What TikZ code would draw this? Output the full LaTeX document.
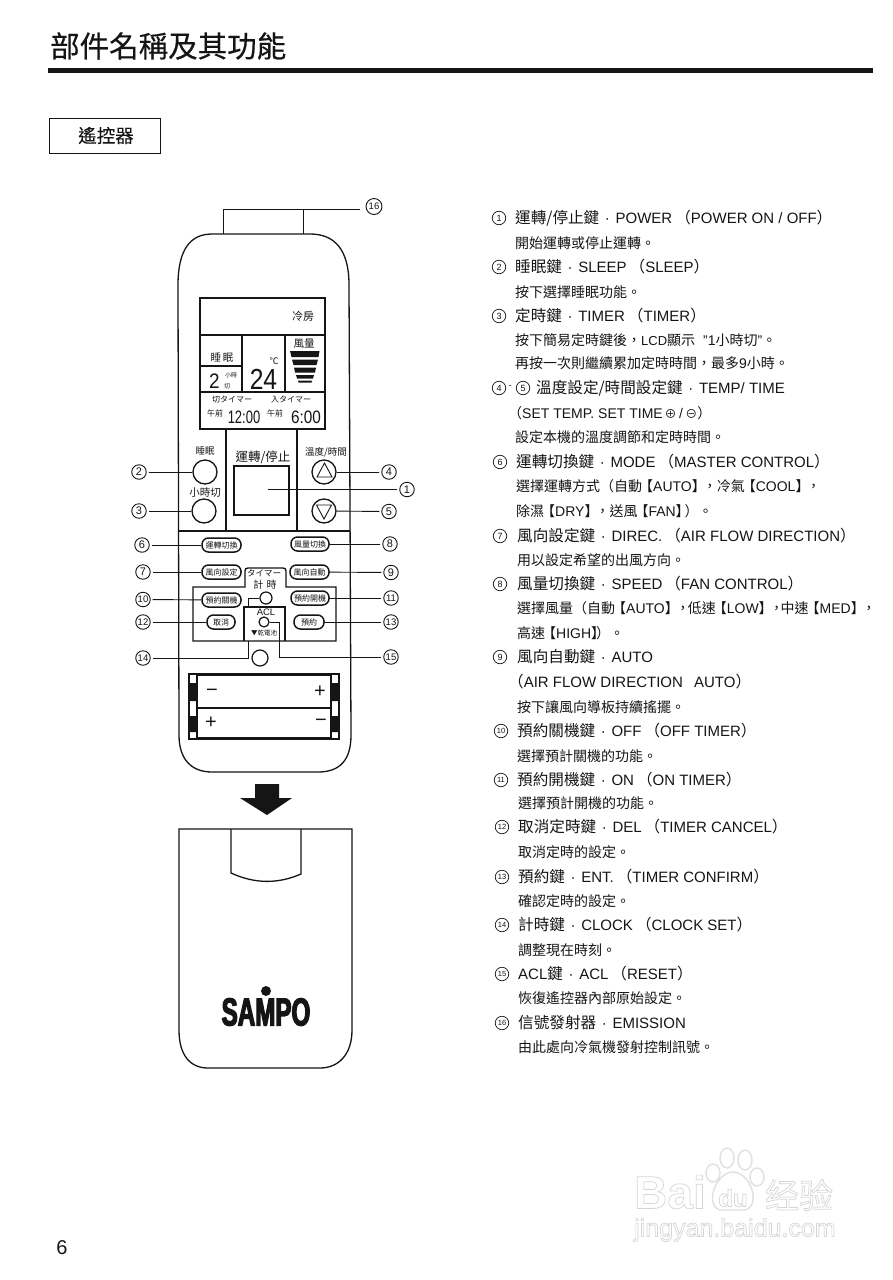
\documentclass[tikz,border=0pt]{standalone}
\usepackage{fontspec}
\setmainfont{Liberation Sans}
\newfontfamily\cjkf{Noto Sans CJK TC}
\newfontfamily\cjkh[Scale=1.04]{Noto Sans CJK TC}
\newfontfamily\cjkm[FakeBold=0.4]{Noto Sans CJK TC}
\newfontfamily\cjks[FakeBold=0.2]{Noto Sans CJK TC}
\newfontfamily\logof[FakeBold=3,FakeStretch=0.62]{Liberation Sans Bold}
\newcommand{\C}[1]{{\cjkf #1}}
\newcommand{\D}[1]{{\cjkh #1}}
\newcommand{\dt}{\hspace{1.5pt} · \hspace{1.5pt}}
\newcommand{\Lp}{\hspace{3pt}\D{（}}
\newcommand{\Rp}{\D{）}}
\newcommand{\Bl}{\hspace{-3pt}\C{【}}
\newcommand{\Br}{\C{】}\hspace{-3pt}}
\newcommand{\La}[1]{{\fontsize{14}{14}\selectfont #1}}
\newcommand{\fs}[1]{\fontsize{#1}{#1}\selectfont}
\newcommand{\outl}[1]{\special{pdf:code q 1 Tr 0.7 w 0.84 0.84 0.84 RG}#1\special{pdf:code Q}}
\definecolor{ink}{HTML}{151515}
\definecolor{wm}{HTML}{E0E0E0}
\tikzset{
  ln/.style={draw=ink,line width=1.3pt},
  lead/.style={draw=ink,line width=0.9pt},
  callout/.style={circle,draw=ink,line width=0.9pt,minimum size=14.5pt,inner sep=0pt,text=ink,font=\fs{11}},
  calloutb/.style={callout,font=\fs{9.5}},
  listnum/.style={circle,draw=ink,line width=0.7pt,minimum size=13.5pt,inner sep=0pt,text=ink,font=\fs{9}},
  listnumb/.style={listnum,font=\fs{7.5}},
  btn/.style={circle,draw=ink,line width=1.3pt,minimum size=24pt,inner sep=0pt},
  smallbtn/.style={circle,draw=ink,line width=1.2pt,inner sep=0pt},
  pill/.style={draw=ink,line width=1.5pt,rounded corners=6.5pt,minimum height=14pt,inner sep=0pt,text=ink,font=\fs{8}\cjkf},
  lab/.style={inner sep=0pt,text=ink},
  headtext/.style={anchor=base west,inner sep=0pt,text=ink,font=\fs{15}},
  subtext/.style={anchor=base west,inner sep=0pt,text=ink,font=\fs{14}},
  wmark/.style={inner sep=0pt,text=white},
}
\newcommand{\hd}[4]{\node[headtext] (#1) at (#2,#3+5.5) {#4};}
\newcommand{\sub}[4]{\node[subtext] (#1) at (#2,#3+5) {#4};}
\begin{document}
\begin{tikzpicture}[x=1pt,y=-1pt]
\useasboundingbox (0,0) rectangle (893,1280);
\fill[white] (0,0) rectangle (893,1280);
% header
\node[lab,anchor=west,font=\fs{29.5}\cjkm] (title) at (50,46) {部件名稱及其功能};
\fill[ink] (48,67.5) rectangle (873,72.5);
\node[draw=ink,line width=0.9pt,minimum width=111pt,minimum height=35pt,inner sep=0pt,text=ink,font=\fs{18.5}\cjks] (sect) at (104.5,135.5) {\hspace*{3pt}遙控器};
\node[lab,font=\fs{20}] (page) at (62,1248) {6};
% remote body
\draw[ln] (178,285) .. controls (178,250) and (190,234) .. (212,234) -- (310,234)
  .. controls (335,234) and (349,250) .. (349,285) -- (351,735)
  .. controls (351,760) and (340,772) .. (318,772) -- (212,772)
  .. controls (192,772) and (179,760) .. (179,735) -- cycle;
% LCD
\draw[ln] (200,298) rectangle (325,429);
\draw[ln] (200,335) -- (325,335) (200,392) -- (325,392) (242,335) -- (242,392) (285,335) -- (285,392) (200,366) -- (242,366);
\node[lab,font=\fs{11}\cjkf] (l1) at (303,316) {冷房};
\node[lab,font=\fs{10.5}\cjkf] (l2) at (304,344) {風量};
\fill[ink] (290,351) -- (319.5,351) -- (318.5,357) -- (291.5,357) -- cycle;
\fill[ink] (292,359.5) -- (318,359.5) -- (316.5,365) -- (293.5,365) -- cycle;
\fill[ink] (294,367.5) -- (316,367.5) -- (315,372.5) -- (295,372.5) -- cycle;
\fill[ink] (296,375) -- (314,375) -- (313,378.5) -- (297,378.5) -- cycle;
\fill[ink] (298,380.5) -- (312,380.5) -- (311.5,382.5) -- (298.5,382.5) -- cycle;
\node[lab,font=\fs{10.5}\cjkf] (l3) at (222,358) {睡\,眠};
\node[lab,font=\fs{21}] (l4) at (214.5,381) {\scalebox{0.9}[1]{2}};
\node[lab,font=\fs{6}\cjkf] (l5) at (231,375) {小時};
\node[lab,font=\fs{6}\cjkf] (l6) at (227,386) {切};
\node[lab,font=\fs{9}\cjkf] (l7) at (274,361) {℃};
\node[lab,font=\fs{29}] (l8) at (263.5,379) {\scalebox{0.85}[1]{24}};
\node[lab,font=\fs{8}\cjkf] (l9) at (232,400) {切タイマー};
\node[lab,font=\fs{8}\cjkf] (l10) at (291,400) {入タイマー};
\node[lab,font=\fs{8}\cjkf] (l11) at (215,413) {午前};
\node[lab,font=\fs{8}\cjkf] (l12) at (275,413) {午前};
\node[lab,font=\fs{18}] (l13) at (244,417) {\scalebox{0.72}[1]{12:00}};
\node[lab,font=\fs{18}] (l14) at (306,417) {\scalebox{0.85}[1]{6:00}};
% upper button bay
\draw[ln] (226,429) -- (226,531) (297,429) -- (297,531) (178,531) -- (350,531);
\node[draw=ink,line width=1.4pt,minimum width=55pt,minimum height=49pt,inner sep=0pt] (power) at (261.5,490.5) {};
\node[lab,font=\fs{12.5}\cjkf] (l15) at (263,457) {運轉/停止};
\node[lab,font=\fs{9.5}\cjkf] (l16) at (205,451) {睡眠};
\node[lab,font=\fs{10.5}\cjkf] (l17) at (205,493) {小時切};
\node[lab,font=\fs{9.5}\cjkf] (l18) at (326,452) {溫度/時間};
\node[btn] (sleep) at (205,472) {};
\node[btn] (timer) at (204,511) {};
\node[btn] (up) at (324,472) {};
\node[btn] (down) at (324,511) {};
\draw[ink,line width=0.9pt] (324.5,463) -- (332,477) -- (317,477) -- cycle;
\draw[ink,line width=0.9pt] (316.5,505) -- (331.5,505) -- (324,519) -- cycle;
% pills
\node[pill,minimum width=39pt] (mode) at (221.5,545) {運轉切換};
\node[pill,minimum width=38pt] (speed) at (310,544) {風量切換};
\node[pill,minimum width=39pt] (direc) at (221.5,572) {風向設定};
\node[pill,minimum width=39pt] (auto) at (309.5,572) {風向自動};
\node[pill,minimum width=39pt] (off) at (221.5,600) {預約關機};
\node[pill,minimum width=38pt] (on) at (310,598) {預約開機};
\node[pill,minimum width=28pt] (del) at (221,622) {取消};
\node[pill,minimum width=30pt] (ent) at (309,622) {預約};
% timer panel
\draw[ln] (193,587) -- (245,587) -- (245,571) .. controls (245,569) and (246,568) .. (248,568) -- (283,568) .. controls (285,568) and (286,569) .. (286,571) -- (286,587) -- (336,587) -- (336,641) -- (193,641) -- cycle;
\draw[ln] (244,641) -- (244,607) -- (285,607) -- (285,641);
\node[lab,font=\fs{8.5}\cjkf] (l19) at (264,573) {タイマー};
\node[lab,font=\fs{10}\cjkf] (l20) at (265,585) {計\,\,時};
\node[lab,font=\fs{9.5}] (l21) at (266,612) {ACL};
\node[lab,font=\fs{6.5}\cjkf] (l22) at (264,633) {▼乾電池};
\node[smallbtn,minimum size=12pt] (clock) at (266,598) {};
\node[smallbtn,minimum size=10pt] (acl) at (264,622) {};
\node[smallbtn,minimum size=16pt] (emit) at (260,658) {};
% callouts
\node[calloutb,minimum size=16pt] (n16) at (374,206.5) {16};
\node[callout] (n1) at (407,489.5) {1};
\node[callout] (n2) at (139,472) {2};
\node[callout] (n3) at (139,511) {3};
\node[callout] (n4) at (389,472) {4};
\node[callout] (n5) at (389,511.5) {5};
\node[callout] (n6) at (142,545) {6};
\node[callout] (n7) at (143,572) {7};
\node[callout] (n8) at (390,544) {8};
\node[callout] (n9) at (391,572.5) {9};
\node[calloutb] (n10) at (143,599.5) {10};
\node[calloutb] (n11) at (391,598) {11};
\node[calloutb] (n12) at (143,622) {12};
\node[calloutb] (n13) at (391,622) {13};
\node[calloutb] (n14) at (143,658) {14};
\node[calloutb] (n15) at (391,657) {15};
\coordinate (s1) at (223,234);
\coordinate (s2) at (303,234);
\coordinate (s3) at (360,209);
\coordinate (p1) at (268,489.5);
\coordinate (c1) at (248,598);
\coordinate (c2) at (248,607);
\coordinate (c3) at (248,641);
\coordinate (r1) at (279.5,657);
\draw[lead] (s1) |- (s3);
\draw[lead] (s2) -- (s2 |- s3);
\draw[lead,shorten <=2pt] (n1) -- (p1);
\draw[lead,shorten <=2pt] (n2) -- (sleep);
\draw[lead,shorten <=2pt] (n3) -- (timer);
\draw[lead,shorten <=2pt] (n4) -- (up);
\draw[lead,shorten <=2pt] (n5) -- (down);
\draw[lead,shorten <=2pt] (n6) -- (mode);
\draw[lead,shorten <=2pt] (n7) -- (direc);
\draw[lead,shorten <=2pt] (n8) -- (speed);
\draw[lead,shorten <=2pt] (n9) -- (auto);
\draw[lead,shorten <=2pt] (n10) -- (off);
\draw[lead,shorten <=2pt] (n11) -- (on);
\draw[lead,shorten <=2pt] (n12) -- (del);
\draw[lead,shorten <=2pt] (n13) -- (ent);
\draw[lead,shorten <=2pt] (n14) -| (c3);
\draw[lead] (clock) -- (c1) -- (c2);
\draw[lead,shorten >=2pt] (acl) -| (r1) -- (n15);
% battery
\draw[ink,line width=1.2pt] (189,674) rectangle (339,739);
\fill[ink] (189,683) rectangle (197,701) (189,716) rectangle (197,732) (331,683) rectangle (339,701) (331,716) rectangle (339,732);
\draw[ink,line width=1.6pt] (197,675) rectangle (331,738);
\draw[ink,line width=1.2pt] (197,708) -- (331,708);
\node[lab,font=\fs{20}] (b1) at (212,693) {−};
\node[lab,font=\fs{20}] (b2) at (320,692) {+};
\node[lab,font=\fs{20}] (b3) at (211,723) {+};
\node[lab,font=\fs{20}] (b4) at (321,723) {−};
% arrow
\fill[ink] (255,784) -- (279,784) -- (279,798) -- (292,798) -- (267,815) -- (240,798) -- (255,798) -- cycle;
% cover
\draw[ln] (179,829) -- (352,829) -- (352,1030) .. controls (352,1055) and (338,1068) .. (320,1068) -- (208,1068) .. controls (190,1068) and (179,1055) .. (179,1030) -- cycle;
\draw[ln] (231,829) -- (231,873) .. controls (255,884) and (278,884) .. (301,874) -- (301,829);
\fill[ink] (266,991) circle (5);
\node[lab,font=\fs{39}\logof] (logo) at (266,1012) {SAMPO};
% list
\node[listnum] (a1) at (499,218) {1};
\hd{t1}{515}{218}{\D{運轉/停止鍵}\dt POWER\Lp POWER ON / OFF\Rp}
\sub{u1}{515}{243}{\C{開始運轉或停止運轉。}}
\node[listnum] (a2) at (499,267) {2};
\hd{t2}{515}{267}{\D{睡眠鍵}\dt SLEEP\Lp SLEEP\Rp}
\sub{u2}{515}{292}{\C{按下選擇睡眠功能。}}
\node[listnum] (a3) at (499,316) {3};
\hd{t3}{515}{316}{\D{定時鍵}\dt TIMER\Lp TIMER\Rp}
\sub{u3}{515}{340}{\C{按下簡易定時鍵後，}{\fs{13}LCD}\C{顯示}\hspace{8pt}"1\C{小時切}"\C{。}}
\sub{u3b}{515}{363}{\C{再按一次則繼續累加定時時間，最多}\La{9}\C{小時。}}
\node[listnum] (a4) at (499,388) {4};
\node[lab,font=\fs{9}] (dash) at (510,387) {-};
\node[listnum] (a5) at (523,388) {5};
\hd{t4}{536}{388}{\D{溫度設定/時間設定鍵}\dt TEMP/ TIME}
\sub{u4}{508}{413}{\C{（}\fs{14}SET TEMP. SET TIME\hspace{2pt}{\fs{12}\C{⊕}}\,/\,{\fs{12}\C{⊖}}\C{）}}
\sub{u4b}{515}{437}{\C{設定本機的溫度調節和定時時間。}}
\node[listnum] (a6) at (500,462) {6};
\hd{t6}{516}{462}{\D{運轉切換鍵}\dt MODE\Lp MASTER CONTROL\Rp}
\sub{u6}{516}{486}{\C{選擇運轉方式（自動}\Bl\La{AUTO}\Br\C{，冷氣}\Bl\La{COOL}\Br\C{，}}
\sub{u6b}{516}{511}{\C{除濕}\Bl\La{DRY}\Br\C{，送風}\Bl\La{FAN}\Br\hspace{-2pt}\C{）。}}
\node[listnum] (a7) at (500,536) {7};
\hd{t7}{517}{536}{\D{風向設定鍵}\dt DIREC.\Lp AIR FLOW DIRECTION\Rp}
\sub{u7}{517}{560}{\C{用以設定希望的出風方向。}}
\node[listnum] (a8) at (500,584) {8};
\hd{t8}{517}{584}{\D{風量切換鍵}\dt SPEED\Lp FAN CONTROL\Rp}
\sub{u8}{517}{608}{\C{選擇風量（自動}\Bl\La{AUTO}\Br\C{，}\hspace{-2pt}\C{低速}\Bl\La{LOW}\Br\C{，}\hspace{-3pt}\C{中速}\Bl\La{MED}\Br\C{，}}
\sub{u8b}{517}{633}{\C{高速}\Bl\La{HIGH}\Br\hspace{-6pt}\C{）。}}
\node[listnum] (a9) at (500,657) {9};
\hd{t9}{517}{657}{\D{風向自動鍵}\dt AUTO}
\hd{t9b}{508}{682}{\D{（}AIR FLOW DIRECTION\hspace{7pt} AUTO\Rp}
\sub{u9}{517}{707}{\C{按下讓風向導板持續搖擺。}}
\node[listnumb] (a10) at (501,731) {10};
\hd{t10}{517}{731}{\D{預約關機鍵}\dt OFF\Lp OFF TIMER\Rp}
\sub{u10}{517}{756}{\C{選擇預計關機的功能。}}
\node[listnumb] (a11) at (501,780) {11};
\hd{t11}{517}{780}{\D{預約開機鍵}\dt ON\Lp ON TIMER\Rp}
\sub{u11}{518}{803}{\C{選擇預計開機的功能。}}
\node[listnumb] (a12) at (502,827) {12};
\hd{t12}{518}{827}{\D{取消定時鍵}\dt DEL\Lp TIMER CANCEL\Rp}
\sub{u12}{518}{852}{\C{取消定時的設定。}}
\node[listnumb] (a13) at (502,877) {13};
\hd{t13}{518}{877}{\D{預約鍵}\dt ENT.\Lp TIMER CONFIRM\Rp}
\sub{u13}{518}{901}{\C{確認定時的設定。}}
\node[listnumb] (a14) at (502,925) {14};
\hd{t14}{518}{925}{\D{計時鍵}\dt CLOCK\Lp CLOCK SET\Rp}
\sub{u14}{518}{950}{\C{調整現在時刻。}}
\node[listnumb] (a15) at (502,974) {15};
\hd{t15}{518}{974}{ACL\D{鍵}\dt ACL\Lp RESET\Rp}
\sub{u15}{518}{998}{\C{恢復遙控器內部原始設定。}}
\node[listnumb] (a16) at (502,1023) {16};
\hd{t16}{518}{1023}{\D{信號發射器}\dt EMISSION}
\sub{u16}{518}{1047}{\C{由此處向冷氣機發射控制訊號。}}
% watermark
\node[wmark,font=\bfseries\fs{46},anchor=west] (w1) at (634,1192) {\outl{Bai}};
\node[wmark,font=\bfseries\fs{24},anchor=center] (w2) at (733,1198) {\outl{du}};
\node[wmark,font=\fs{34}\cjkf] (w3) at (799,1195) {\outl{经验}};
\node[wmark,font=\fs{25},anchor=west] (w4) at (634,1230) {\outl{jingyan.baidu.com}};
\draw[wm,line width=1.4pt] (727,1158) ellipse (7 and 10) (745,1160) ellipse (7 and 10) (713,1173) ellipse (7 and 9) (757,1177) ellipse (7 and 9);
\draw[wm,line width=1.4pt] (733,1172) .. controls (750,1172) and (762,1205) .. (745,1210) -- (720,1210) .. controls (704,1205) and (716,1172) .. (733,1172) -- cycle;
\end{tikzpicture}
\end{document}
